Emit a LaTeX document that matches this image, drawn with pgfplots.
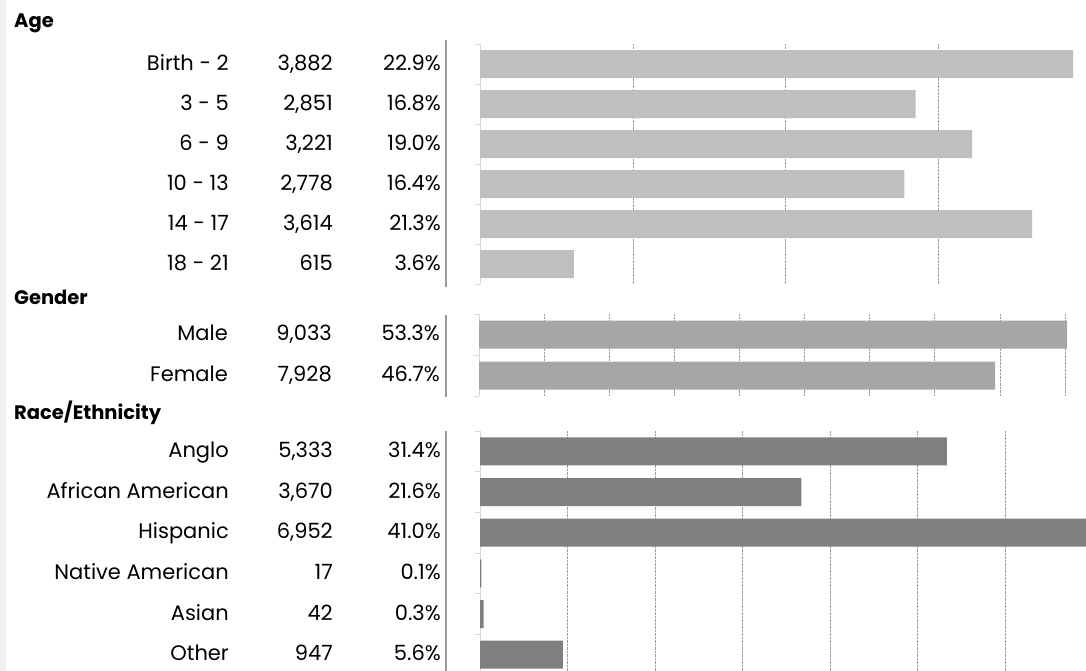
\documentclass[border=0pt]{standalone}
\usepackage{pgfplots}
\pgfplotsset{compat=1.18}
\usepackage{pgfplotstable}
\usepackage{fontspec}
\setmainfont{Poppins}
\definecolor{ageC}{HTML}{BFBFBF}
\definecolor{genC}{HTML}{A6A6A6}
\definecolor{raceC}{HTML}{7F7F7F}
\definecolor{sepC}{HTML}{9A9A9A}
\definecolor{axC}{HTML}{D6D6D6}
\definecolor{gridC}{HTML}{9A9A9A}
\definecolor{stripC}{HTML}{F0F0F0}

\pgfplotstableread{
y n
0 3882
1 2851
2 3221
3 2778
4 3614
5 615
}\agedata
\pgfplotstableread{
y n
0 9033
1 7928
}\gendata
\pgfplotstableread{
y n
0 5333
1 3670
2 6952
3 17
4 42
5 947
}\racedata

\tikzset{lbl/.style={anchor=base east, yshift=-6pt, inner sep=0pt, font=\fontsize{21}{25}\selectfont},
  hdr/.style={anchor=base west, inner sep=0pt, font=\fontsize{19.5}{23}\selectfont\bfseries}}

\newcommand\rowt[4]{%
  \node[lbl] at ([xshift=-251pt]axis cs:0,#1) {#2};
  \node[lbl] at ([xshift=-147pt]axis cs:0,#1) {#3};
  \node[lbl] at ([xshift=-39pt]axis cs:0,#1) {#4};}

\pgfplotsset{
  panel/.style={
    scale only axis, anchor=north west,
    xmin=0, ymin=-0.5, y dir=reverse,
    axis lines*=left,
    x axis line style={draw=none},
    y axis line style={draw=axC, line width=0.8pt, -},
    xmajorgrids, grid style={gridC, densely dotted, line width=0.6pt},
    xticklabels={}, x tick style={draw=none},
    yticklabels={}, y tick style={draw=axC, line width=0.8pt},
    tick align=outside, major tick length=5pt,
    xbar, bar width=28pt, bar shift=0pt,
    clip mode=individual,
  }
}

\begin{document}
\begin{tikzpicture}
\useasboundingbox (0,0) rectangle (1086pt,-671pt);
\clip (0,0) rectangle (1086pt,-671pt);
\fill[stripC] (0,0) rectangle (6pt,-671pt);

\node[hdr] at (14pt,-28pt) {Age};
\node[hdr] at (14pt,-304pt) {Gender};
\node[hdr] at (14pt,-419pt) {Race/Ethnicity};

\draw[sepC, line width=2.4pt] (446pt,-40pt) -- (446pt,-287pt);
\draw[sepC, line width=2.4pt] (446pt,-315pt) -- (446pt,-397pt);
\draw[sepC, line width=2.4pt] (446pt,-431pt) -- (446pt,-680pt);

\begin{axis}[panel, at={(480pt,-44pt)}, width=606pt, height=240pt,
  xmax=3966, ymax=5.5, ytick={-0.5,0.5,...,5.5}, xtick={1000,2000,3000}]
\addplot[fill=ageC, draw=none] table[x=n, y=y] {\agedata};
\rowt{0}{Birth - 2}{3,882}{22.9\%}
\rowt{1}{3 - 5}{2,851}{16.8\%}
\rowt{2}{6 - 9}{3,221}{19.0\%}
\rowt{3}{10 - 13}{2,778}{16.4\%}
\rowt{4}{14 - 17}{3,614}{21.3\%}
\rowt{5}{18 - 21}{615}{3.6\%}
\end{axis}

\begin{axis}[panel, at={(479pt,-314pt)}, width=607pt, height=82pt,
  xmax=9324, ymax=1.5, ytick={-0.5,0.5,1.5}, xtick={1000,2000,...,9000}]
\addplot[fill=genC, draw=none] table[x=n, y=y] {\gendata};
\rowt{0}{Male}{9,033}{53.3\%}
\rowt{1}{Female}{7,928}{46.7\%}
\end{axis}

\begin{axis}[panel, at={(480pt,-431pt)}, width=606pt, height=244pt,
  xmax=6922, ymax=5.5, ytick={-0.5,0.5,...,5.5}, xtick={1000,2000,...,6000}]
\addplot[fill=raceC, draw=none] table[x=n, y=y] {\racedata};
\rowt{0}{Anglo}{5,333}{31.4\%}
\rowt{1}{African American}{3,670}{21.6\%}
\rowt{2}{Hispanic}{6,952}{41.0\%}
\rowt{3}{Native American}{17}{0.1\%}
\rowt{4}{Asian}{42}{0.3\%}
\rowt{5}{Other}{947}{5.6\%}
\end{axis}
\end{tikzpicture}
\end{document}
